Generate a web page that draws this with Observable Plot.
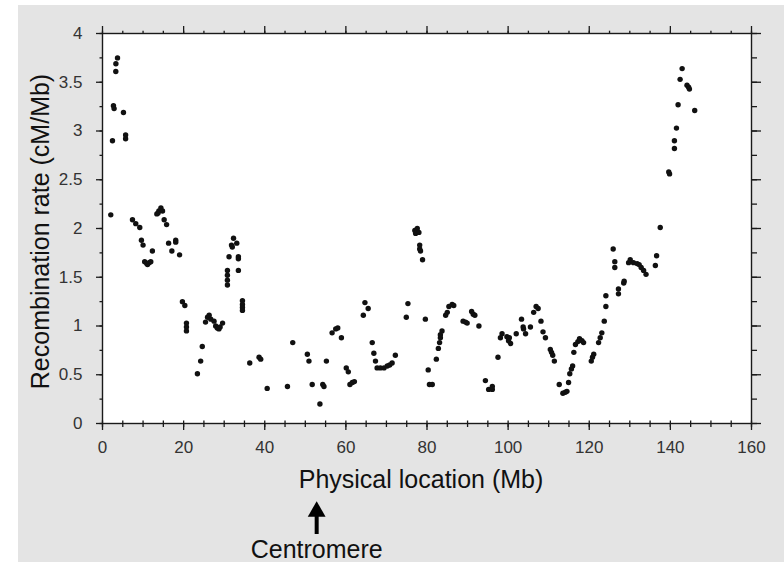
<!DOCTYPE html>
<html><head><meta charset="utf-8">
<script src="https://cdn.jsdelivr.net/npm/d3@7"></script>
<script src="https://cdn.jsdelivr.net/npm/@observablehq/plot@0.6"></script>
<style>
html,body{margin:0;padding:0;background:#fff;}
#wrap{position:relative;width:784px;height:562px;overflow:hidden;}
#bg{position:absolute;left:18px;top:5px;right:0;bottom:0;background:#e4e4e4;}
#chart{position:absolute;left:0;top:0;}
</style></head>
<body><div id="wrap"><div id="bg"></div><div id="chart"></div></div>
<script>
const positionMb = [2.04,2.46,2.7,2.86,3.28,3.3,3.7,5.17,5.7,5.7,7.39,8.2,9.19,9.6,10.0,10.4,10.9,11.1,11.5,11.9,12.3,13.4,13.7,13.9,14.4,14.8,15.2,15.8,16.3,17.1,18.05,18.05,19.0,19.7,20.3,20.7,20.7,20.7,23.4,24.2,24.6,25.4,25.9,26.3,26.7,27.5,27.9,28.3,28.7,29.0,29.6,30.8,30.8,30.8,30.8,31.2,31.8,32.0,32.3,33.1,33.5,33.5,33.5,34.5,34.5,34.5,34.5,36.3,38.6,39.0,40.6,45.6,46.9,50.5,50.9,51.7,53.6,54.3,54.6,55.2,56.6,57.5,58.0,58.9,60.1,60.6,61.0,61.6,62.1,64.3,64.7,65.5,66.5,66.9,67.3,67.7,68.5,69.4,70.2,70.8,71.4,72.2,74.9,75.3,77.0,77.2,77.6,78.0,78.2,78.2,78.4,78.9,79.6,80.3,80.6,81.3,82.3,82.8,83.1,83.3,83.3,83.7,84.6,85.0,85.4,86.2,86.6,88.9,89.5,89.9,91.0,91.4,91.8,92.8,94.4,95.2,96.1,96.1,97.5,98.1,98.5,99.7,100.1,100.3,100.6,102.0,103.3,103.7,103.8,104.3,105.5,106.3,106.9,107.4,108.1,108.6,109.2,110.4,110.7,111.0,111.4,112.6,113.5,114.1,114.5,114.9,115.2,115.6,115.9,116.2,116.6,117.2,117.6,118.2,118.6,120.5,120.8,121.1,122.3,122.7,123.1,123.7,124.1,124.1,125.9,126.3,126.3,127.2,127.2,128.5,128.6,129.7,130.1,130.9,131.8,132.3,132.8,133.4,134.0,136.3,136.6,137.5,139.6,139.8,141.0,141.0,141.5,141.9,142.4,142.9,144.1,144.5,144.7,146.0];
const rateCMperMb = [2.14,2.90,3.26,3.23,3.61,3.69,3.75,3.19,2.96,2.92,2.09,2.05,2.01,1.88,1.83,1.66,1.64,1.63,1.65,1.66,1.77,2.15,2.16,2.18,2.21,2.18,2.09,2.04,1.85,1.77,1.88,1.86,1.73,1.25,1.21,1.03,0.99,0.95,0.51,0.64,0.79,1.04,1.09,1.11,1.07,1.05,1.00,0.98,0.97,0.99,1.03,1.57,1.52,1.47,1.42,1.71,1.83,1.81,1.90,1.85,1.71,1.69,1.57,1.26,1.22,1.19,1.16,0.62,0.68,0.66,0.36,0.38,0.83,0.71,0.64,0.40,0.20,0.40,0.38,0.64,0.93,0.97,0.98,0.88,0.57,0.53,0.40,0.42,0.43,1.11,1.24,1.18,0.83,0.72,0.64,0.57,0.57,0.57,0.59,0.60,0.62,0.70,1.09,1.23,1.98,1.95,2.00,1.96,1.83,1.79,1.77,1.68,1.07,0.55,0.40,0.40,0.66,0.77,0.83,0.88,0.91,0.95,1.11,1.14,1.20,1.22,1.21,1.05,1.04,1.03,1.15,1.12,1.11,1.00,0.44,0.35,0.35,0.38,0.68,0.88,0.92,0.89,0.85,0.88,0.82,0.92,1.07,0.99,0.97,0.92,0.99,1.14,1.20,1.18,1.05,0.94,0.88,0.76,0.73,0.70,0.64,0.40,0.31,0.32,0.33,0.42,0.51,0.56,0.59,0.73,0.81,0.84,0.87,0.85,0.83,0.64,0.68,0.71,0.83,0.88,0.93,1.05,1.20,1.31,1.79,1.66,1.60,1.38,1.33,1.44,1.46,1.65,1.68,1.65,1.64,1.63,1.60,1.57,1.53,1.62,1.72,2.01,2.58,2.56,2.82,2.90,3.03,3.27,3.53,3.64,3.47,3.45,3.43,3.21];
const xMajorTicks = [0,20,40,60,80,100,120,140,160];
const xMinorTicks = [0,5,10,15,20,25,30,35,40,45,50,55,60,65,70,75,80,85,90,95,100,105,110,115,120,125,130,135,140,145,150,155,160];
const yMajorTicks = [0,0.5,1,1.5,2,2.5,3,3.5,4];
const yMinorTicks = [0,0.25,0.5,0.75,1,1.25,1.5,1.75,2,2.25,2.5,2.75,3,3.25,3.5,3.75,4];
const centromereMb = [52.8];
const xTitle = "Physical location (Mb)";
const yTitle = "Recombination rate (cM/Mb)";
const centromereLabel = "Centromere";

const points = positionMb.map((x, i) => ({x, y: rateCMperMb[i]}));
const ink = "#1a1a1a";
const noText = () => "";

const chart = Plot.plot({
  width: 784, height: 562,
  marginLeft: 102, marginRight: 33, marginTop: 33, marginBottom: 139,
  style: {background: "transparent", fontFamily: "'Liberation Sans', Arial, sans-serif"},
  x: {domain: [0, 160]},
  y: {domain: [0, 4]},
  marks: [
    Plot.frame({fill: "white", stroke: null}),
    Plot.dot(points, {x: "x", y: "y", r: 2.7, fill: "#111", stroke: null}),
    Plot.frame({stroke: ink, strokeWidth: 1.4}),
    // bottom
    Plot.axisX(xMajorTicks, {anchor: "bottom", tickSize: 7, tickPadding: 10, fontSize: 17, fill: "#333", stroke: ink, strokeWidth: 1.3, label: null, tickFormat: d => String(d)}),
    Plot.axisX(xMinorTicks, {anchor: "bottom", tickSize: 4, tickFormat: noText, label: null, stroke: ink, strokeWidth: 1.3}),
    Plot.axisX(xMinorTicks, {anchor: "bottom", tickSize: -2.5, tickFormat: noText, label: null, stroke: ink, strokeWidth: 1.3}),
    // top
    Plot.axisX(xMajorTicks, {anchor: "top", tickSize: 8, tickFormat: noText, label: null, stroke: ink, strokeWidth: 1.3}),
    Plot.axisX(xMinorTicks, {anchor: "top", tickSize: 3.3, tickFormat: noText, label: null, stroke: ink, strokeWidth: 1.3}),
    // left
    Plot.axisY(yMajorTicks, {anchor: "left", tickSize: 6, tickPadding: 14, fontSize: 17, fill: "#333", stroke: ink, strokeWidth: 1.3, label: null, tickFormat: d => String(d)}),
    Plot.axisY(yMinorTicks, {anchor: "left", tickSize: 2.5, tickFormat: noText, label: null, stroke: ink, strokeWidth: 1.3}),
    // right
    Plot.axisY(yMajorTicks, {anchor: "right", tickSize: 9, tickFormat: noText, label: null, stroke: ink, strokeWidth: 1.3}),
    Plot.axisY(yMinorTicks, {anchor: "right", tickSize: 5, tickFormat: noText, label: null, stroke: ink, strokeWidth: 1.3}),
    // titles
    Plot.text([yTitle], {frameAnchor: "left", textAnchor: "middle", lineAnchor: "middle", rotate: -90, dx: -62, dy: 3, fontSize: 25, fill: "#111"}),
    Plot.text([xTitle], {frameAnchor: "bottom", textAnchor: "middle", lineAnchor: "middle", dx: -6, dy: 56, fontSize: 25, fill: "#111"}),
    // centromere marker
    Plot.ruleX(centromereMb, {x: d => d, insetTop: 481, insetBottom: -111, stroke: "#000", strokeWidth: 4}),
    Plot.dot(centromereMb, {x: d => d, frameAnchor: "bottom", dy: 88, symbol: "triangle", r: 6.6, fill: "#000", stroke: null}),
    Plot.text(centromereMb, {x: d => d, frameAnchor: "bottom", textAnchor: "middle", lineAnchor: "middle", dy: 126, text: () => centromereLabel, fontSize: 25, fill: "#111"})
  ]
});
document.getElementById("chart").appendChild(chart);
</script>
</body></html>
